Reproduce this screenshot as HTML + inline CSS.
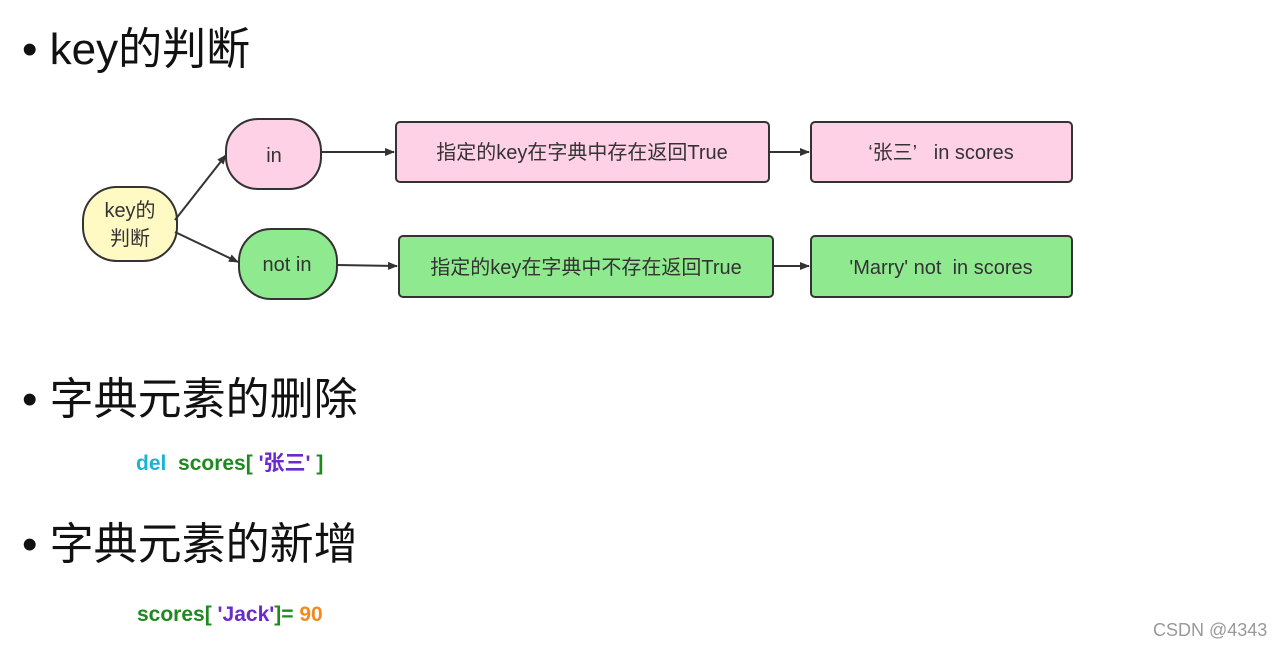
<!DOCTYPE html>
<html><head><meta charset="utf-8"><style>
body{margin:0;width:1284px;height:647px;background:#fff;overflow:hidden;position:relative;font-family:"Liberation Sans","Noto Sans CJK SC",sans-serif}
.h{position:absolute;font-size:44px;color:#111;line-height:1;white-space:nowrap}
.c{position:absolute;font-size:21px;font-weight:bold;white-space:nowrap;line-height:1}
</style></head><body>
<div class="h" style="left:22px;top:28px">• key的判断</div>
<div class="h" style="left:22px;top:378px">• 字典元素的删除</div>
<div class="h" style="left:22px;top:523px">• 字典元素的新增</div>
<div class="c" style="left:136px;top:453px"><span style="color:#1bb3cf">del</span>&nbsp;&nbsp;<span style="color:#1e8a1e">scores[ </span><span style="color:#6a2bc8">'张三'</span><span style="color:#1e8a1e"> ]</span></div>
<div class="c" style="left:137px;top:604px"><span style="color:#1e8a1e">scores[ </span><span style="color:#6a2bc8">'Jack'</span><span style="color:#1e8a1e">]= </span><span style="color:#f08a1c">90</span></div>
<div style="position:absolute;left:1153px;top:620px;font-size:18px;color:#999">CSDN @4343</div>
<svg width="1284" height="647" style="position:absolute;left:0;top:0" font-family="Liberation Sans, Noto Sans CJK SC, sans-serif">
<defs><marker id="a" markerWidth="10" markerHeight="8" refX="9" refY="4" orient="auto" markerUnits="userSpaceOnUse"><path d="M0,0L10,4L0,8z" fill="#333"/></marker></defs>
<g stroke="#333" stroke-width="2">
<rect x="83" y="187" width="94" height="74" rx="34" fill="#fff9c4"/>
<rect x="226" y="119" width="95" height="70" rx="32" fill="#ffd1e6"/>
<rect x="239" y="229" width="98" height="70" rx="32" fill="#8fea8f"/>
<rect x="396" y="122" width="373" height="60" rx="4" fill="#ffd1e6"/>
<rect x="811" y="122" width="261" height="60" rx="4" fill="#ffd1e6"/>
<rect x="399" y="236" width="374" height="61" rx="4" fill="#8fea8f"/>
<rect x="811" y="236" width="261" height="61" rx="4" fill="#8fea8f"/>
<g fill="none" marker-end="url(#a)">
<line x1="175" y1="220" x2="226" y2="155"/>
<line x1="175" y1="232" x2="238" y2="262"/>
<line x1="322" y1="152" x2="394" y2="152"/>
<line x1="337" y1="265" x2="397" y2="266"/>
<line x1="769" y1="152" x2="809" y2="152"/>
<line x1="773" y1="266" x2="809" y2="266"/>
</g></g>
<g fill="#333" font-size="20" text-anchor="middle">
<text x="130" y="217">key的</text><text x="130" y="245">判断</text>
<text x="274" y="162">in</text>
<text x="287" y="271">not in</text>
<text x="582" y="159">指定的key在字典中存在返回True</text>
<text x="941" y="159">‘张三’&#160;&#160;&#160;in scores</text>
<text x="586" y="274">指定的key在字典中不存在返回True</text>
<text x="941" y="274">'Marry' not&#160;&#160;in scores</text>
</g></svg>
</body></html>
